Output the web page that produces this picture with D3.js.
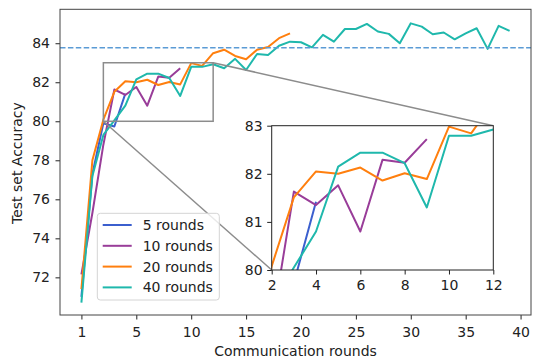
<!DOCTYPE html>
<html>
<head>
<meta charset="utf-8">
<script src="https://cdn.jsdelivr.net/npm/d3@7"></script>
<style>
  body { margin: 0; background: #fff; }
  svg { display: block; font-family: "DejaVu Sans", sans-serif; }
</style>
</head>
<body>
<div id="viz"></div>
<script>
// accuracy per communication round (x positions are 0-based, first tick labelled "1")
const rounds5 = [71.0, 77.3, 79.9, 79.73, 81.42];
const rounds10 = [72.15, 75.3, 78.8, 81.63, 81.35, 81.76, 80.80, 82.29, 82.23, 82.72];
const rounds20 = [71.4, 78.0, 80.08, 81.51, 82.05, 82.0, 82.13, 81.86, 82.01, 81.89,
  82.98, 82.84, 83.49, 83.67, 83.35, 83.18, 83.67, 83.81, 84.26, 84.51];
const rounds40 = [70.7, 77.2, 79.3, 80.05, 80.80, 82.15, 82.44, 82.44, 82.22, 81.30,
  82.79, 82.79, 82.92, 82.72, 83.2, 82.63, 83.45, 83.40, 83.87, 84.08,
  84.05, 83.79, 84.43, 84.08, 84.73, 84.73, 84.99, 84.60, 84.48, 84.0,
  85.02, 84.85, 84.46, 84.55, 84.20, 84.51, 84.77, 83.71, 84.89, 84.63];
const seriesNames = ['5 rounds', '10 rounds', '20 rounds', '40 rounds'];
const seriesColors = ['#3b5fce', '#993d99', '#ff7f0e', '#1fb8ac'];
const baseline = 83.77;

const xTickPos = [0, 5, 10, 15, 20, 25, 30, 35, 40];
const xTickLabels = ['1', '5', '10', '15', '20', '25', '30', '35', '40'];
const yTicks = [72, 74, 76, 78, 80, 82, 84];
const insetXTicks = [2, 4, 6, 8, 10, 12];
const insetYTicks = [80, 81, 82, 83];
const zoomX = [2, 12];
const zoomY = [80, 83];

const allSeries = [rounds5, rounds10, rounds20, rounds40];

const W = 534, H = 358;
const box = { left: 60, right: 531, top: 9.3, bottom: 315 };
const ibox = { left: 271.7, right: 493.3, top: 125.7, bottom: 270 };

const svg = d3.select('#viz').append('svg')
  .attr('width', W)
  .attr('height', H);

svg.append('rect').attr('width', W).attr('height', H).attr('fill', '#fff');

const x = d3.scaleLinear().domain([-1.95, 40.95]).range([box.left, box.right]);
const y = d3.scaleLinear().domain([70.07, 85.74]).range([box.bottom, box.top]);

const defs = svg.append('defs');
defs.append('clipPath').attr('id', 'clipMain').append('rect')
  .attr('x', box.left).attr('y', box.top)
  .attr('width', box.right - box.left).attr('height', box.bottom - box.top);
defs.append('clipPath').attr('id', 'clipInset').append('rect')
  .attr('x', ibox.left).attr('y', ibox.top)
  .attr('width', ibox.right - ibox.left).attr('height', ibox.bottom - ibox.top);

function drawLines(g, xs, ys, width) {
  g.selectAll('path.series')
    .data(allSeries)
    .join('path')
    .attr('class', 'series')
    .attr('fill', 'none')
    .attr('stroke', (d, i) => seriesColors[i])
    .attr('stroke-width', width)
    .attr('stroke-linejoin', 'round')
    .attr('d', d3.line().x((d, i) => xs(i)).y(d => ys(d)));
}

// main lines
const mainG = svg.append('g').attr('clip-path', 'url(#clipMain)');
drawLines(mainG, x, y, 2);

mainG.append('line')
  .attr('x1', box.left).attr('x2', box.right)
  .attr('y1', y(baseline)).attr('y2', y(baseline))
  .attr('stroke', '#5b9bd5')
  .attr('stroke-width', 1.6)
  .attr('stroke-dasharray', '5.5,2.4');

// zoom rectangle + connectors
svg.append('rect')
  .attr('x', x(zoomX[0])).attr('y', y(zoomY[1]))
  .attr('width', x(zoomX[1]) - x(zoomX[0]))
  .attr('height', y(zoomY[0]) - y(zoomY[1]))
  .attr('fill', 'none').attr('stroke', '#8c8c8c').attr('stroke-width', 1.5);

svg.append('line')
  .attr('x1', x(zoomX[0])).attr('y1', y(zoomY[0]))
  .attr('x2', ibox.left).attr('y2', ibox.bottom)
  .attr('stroke', '#8c8c8c').attr('stroke-width', 1.5);
svg.append('line')
  .attr('x1', x(zoomX[1])).attr('y1', y(zoomY[1]))
  .attr('x2', ibox.right).attr('y2', ibox.top)
  .attr('stroke', '#8c8c8c').attr('stroke-width', 1.5);

// main axes
function styleAxis(g) {
  g.select('.domain').remove();
  g.selectAll('.tick line').attr('stroke', '#222').attr('stroke-width', 1);
  g.selectAll('.tick text').attr('fill', '#222').style('font-size', '14px')
    .style('font-family', '"DejaVu Sans", sans-serif');
}

svg.append('g')
  .attr('transform', `translate(0,${box.bottom})`)
  .call(d3.axisBottom(x).tickValues(xTickPos).tickFormat((d, i) => xTickLabels[i])
    .tickSize(4.5).tickPadding(7.5))
  .call(styleAxis);

svg.append('g')
  .attr('transform', `translate(${box.left},0)`)
  .call(d3.axisLeft(y).tickValues(yTicks).tickFormat(d3.format('d'))
    .tickSize(4.5).tickPadding(5.5))
  .call(styleAxis);

svg.append('rect')
  .attr('x', box.left).attr('y', box.top)
  .attr('width', box.right - box.left).attr('height', box.bottom - box.top)
  .attr('fill', 'none').attr('stroke', '#444').attr('stroke-width', 1);

svg.append('text')
  .attr('x', (box.left + box.right) / 2).attr('y', 356)
  .attr('text-anchor', 'middle')
  .style('font-size', '14px').attr('fill', '#222')
  .text('Communication rounds');

svg.append('text')
  .attr('transform', `translate(22,${(box.top + box.bottom) / 2 + 1}) rotate(-90)`)
  .attr('text-anchor', 'middle')
  .style('font-size', '14px').attr('fill', '#222')
  .text('Test set Accuracy');

// legend
const lg = svg.append('g');
lg.append('rect')
  .attr('x', 97.3).attr('y', 213.3).attr('width', 122).attr('height', 86.7)
  .attr('rx', 3)
  .attr('fill', '#fff').attr('fill-opacity', 0.8)
  .attr('stroke', '#d4d4d4').attr('stroke-width', 1);
seriesNames.forEach((name, i) => {
  const ly = 225 + i * 20.8;
  lg.append('line')
    .attr('x1', 102.7).attr('x2', 131.7).attr('y1', ly).attr('y2', ly)
    .attr('stroke', seriesColors[i]).attr('stroke-width', 2);
  lg.append('text')
    .attr('x', 142.7).attr('y', ly).attr('dy', '0.35em')
    .style('font-size', '14px').attr('fill', '#222')
    .text(name);
});

// inset
const xi = d3.scaleLinear().domain(zoomX).range([ibox.left, ibox.right]);
const yi = d3.scaleLinear().domain(zoomY).range([ibox.bottom, ibox.top]);

svg.append('rect')
  .attr('x', ibox.left).attr('y', ibox.top)
  .attr('width', ibox.right - ibox.left).attr('height', ibox.bottom - ibox.top)
  .attr('fill', '#fff');

const insetG = svg.append('g').attr('clip-path', 'url(#clipInset)');
drawLines(insetG, xi, yi, 2);

svg.append('g')
  .attr('transform', `translate(0,${ibox.bottom})`)
  .call(d3.axisBottom(xi).tickValues(insetXTicks).tickFormat(d3.format('d'))
    .tickSize(4.5).tickPadding(6))
  .call(styleAxis);

svg.append('g')
  .attr('transform', `translate(${ibox.left},0)`)
  .call(d3.axisLeft(yi).tickValues(insetYTicks).tickFormat(d3.format('d'))
    .tickSize(4.5).tickPadding(4.5))
  .call(styleAxis);

svg.append('rect')
  .attr('x', ibox.left).attr('y', ibox.top)
  .attr('width', ibox.right - ibox.left).attr('height', ibox.bottom - ibox.top)
  .attr('fill', 'none').attr('stroke', '#222').attr('stroke-width', 1);
</script>
</body>
</html>
